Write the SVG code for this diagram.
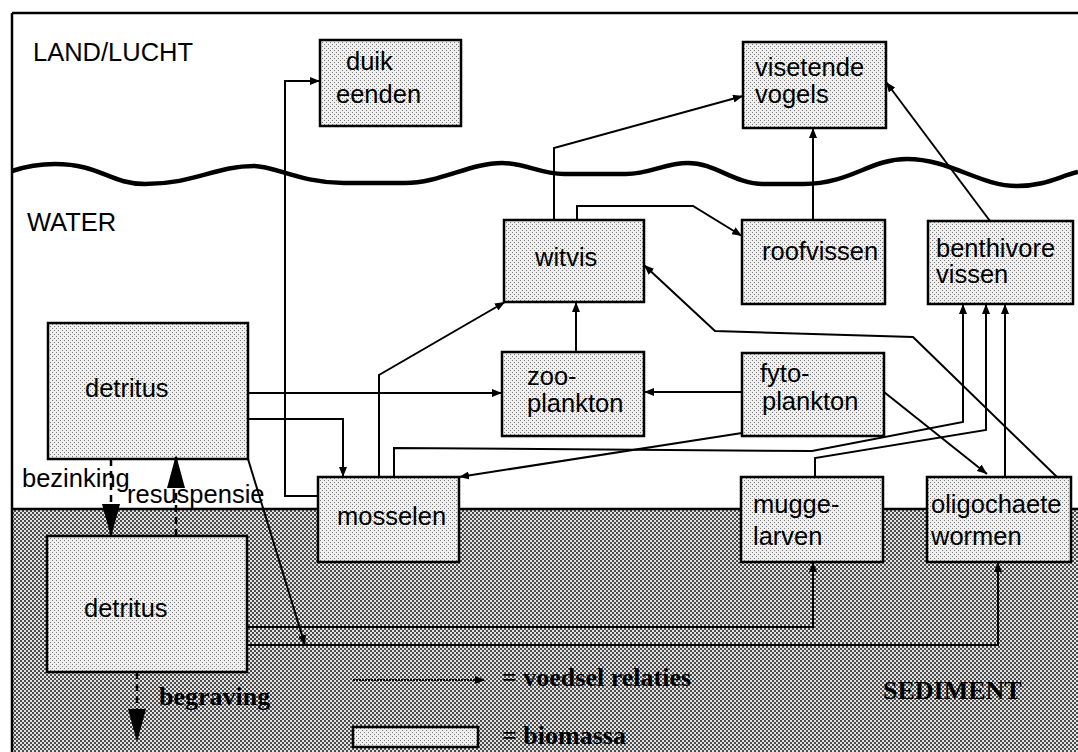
<svg xmlns="http://www.w3.org/2000/svg" width="1078" height="752" viewBox="0 0 1078 752">
<defs>
<pattern id="sed" width="4" height="4" patternUnits="userSpaceOnUse"><rect width="4" height="4" fill="#e4e4e4"/><rect width="2" height="2" fill="#4a4a4a"/><rect x="2" y="2" width="2" height="2" fill="#4a4a4a"/></pattern>
<pattern id="dots" width="4" height="4" patternUnits="userSpaceOnUse"><rect width="4" height="4" fill="#efefef"/><rect width="1" height="1" fill="#7a7a7a"/><rect x="2" y="2" width="1" height="1" fill="#7a7a7a"/></pattern>
<marker id="arr" viewBox="0 0 10 8" markerWidth="10" markerHeight="8" refX="10" refY="4" orient="auto" markerUnits="userSpaceOnUse"><path d="M0,0 L10,4 L0,8 z" fill="#000"/></marker>
<marker id="big" viewBox="0 0 33 18" markerWidth="33" markerHeight="18" refX="33" refY="9" orient="auto" markerUnits="userSpaceOnUse"><path d="M0,0 L33,9 L0,18 z" fill="#000"/></marker>
</defs>
<style>
.box{fill:url(#dots);stroke:#000;stroke-width:2.5}
.lbl{font-family:"Liberation Sans",Arial,sans-serif;font-size:25.5px;fill:#000}
.ser{font-family:"Liberation Serif","Times New Roman",serif;font-weight:bold;font-size:26px;fill:#000}
.c{fill:none;stroke:#000;stroke-width:2;marker-end:url(#arr)}
.d{fill:none;stroke:#000;stroke-width:2.5;stroke-dasharray:7 5;marker-end:url(#big)}
.frame{fill:none;stroke:#000;stroke-width:2.5}
</style>
<rect width="1078" height="752" fill="#fff"/>
<g id="sediment">
<rect x="12" y="509" width="1066" height="243" fill="url(#sed)"/>
<path class="frame" d="M12,509 H1078"/>
</g>
<g id="frame">
<path class="frame" d="M12,13 H1078 M12,13 V752"/>
<path d="M12,171 C30,165 45,164 55,164 C100,164 110,184 145,184 C195,184 215,166 254,166 C275,166 300,183 344,183 L405,183 C440,183 470,163 502,163 C525,163 540,174 564,174 L626,174 C650,174 665,163 688,163 C715,163 735,184 763,184 L804,184 C850,184 870,159 907,159 C950,159 980,186 1017,186 C1045,186 1060,176 1078,172" fill="none" stroke="#000" stroke-width="4.5"/>
<text class="lbl" x="33" y="61">LAND/LUCHT</text>
<text class="lbl" x="27" y="231">WATER</text>
<text class="ser" x="883" y="699">SEDIMENT</text>
</g>
<g id="n-duik"><rect class="box" x="320" y="40" width="141" height="86"/><text class="lbl" x="346" y="70">duik</text><text class="lbl" x="336" y="103">eenden</text></g>
<g id="n-visetende"><rect class="box" x="743" y="42" width="143" height="86"/><text class="lbl" x="755" y="76">visetende</text><text class="lbl" x="755" y="103">vogels</text></g>
<g id="n-witvis"><rect class="box" x="504" y="220" width="140" height="82"/><text class="lbl" x="535" y="266">witvis</text></g>
<g id="n-roofvissen"><rect class="box" x="742" y="220" width="143" height="84"/><text class="lbl" x="762" y="260">roofvissen</text></g>
<g id="n-benthivore"><rect class="box" x="928" y="221" width="145" height="83"/><text class="lbl" x="936" y="257">benthivore</text><text class="lbl" x="936" y="283">vissen</text></g>
<g id="n-zooplankton"><rect class="box" x="502" y="352" width="142" height="84"/><text class="lbl" x="527" y="385">zoo-</text><text class="lbl" x="527" y="412">plankton</text></g>
<g id="n-fytoplankton"><rect class="box" x="742" y="353" width="142" height="83"/><text class="lbl" x="760" y="382">fyto-</text><text class="lbl" x="762" y="410">plankton</text></g>
<g id="n-detritus-water"><rect class="box" x="48" y="323" width="200" height="136"/><text class="lbl" x="85" y="397">detritus</text></g>
<g id="n-detritus-sediment"><rect class="box" x="47" y="536" width="200" height="136"/><text class="lbl" x="84" y="617">detritus</text></g>
<g id="n-mosselen"><rect class="box" x="318" y="477" width="141" height="85"/><text class="lbl" x="337" y="525">mosselen</text></g>
<g id="n-muggelarven"><rect class="box" x="741" y="477" width="142" height="85"/><text class="lbl" x="753" y="513">mugge-</text><text class="lbl" x="753" y="545">larven</text></g>
<g id="n-oligochaete"><rect class="box" x="927" y="477" width="144" height="85"/><text class="lbl" x="931" y="513">oligochaete</text><text class="lbl" x="931" y="545">wormen</text></g>
<g id="connectors">
<path class="c" d="M318,496 H285 V81 H320"/>
<path class="c" d="M554,220 V148 L743,96"/>
<path class="c" d="M813,220 V128"/>
<path class="c" d="M577,220 V206 H693 L742,236"/>
<path class="c" d="M990,221 L886,82"/>
<path class="c" d="M576,352 V302"/>
<path class="c" d="M379,477 V375 L505,302"/>
<path class="c" d="M248,393 H502"/>
<path class="c" d="M248,419 H343 V477"/>
<path class="c" d="M742,392 H644"/>
<path class="c" d="M742,433 L459,477"/>
<path class="c" d="M394,477 V448 L812,451 L963,422 V304"/>
<path class="c" d="M815,477 V458 L986,430 V304"/>
<path class="c" d="M1005,477 V304"/>
<path class="c" d="M884,392 L987,474"/>
<path class="c" d="M1057,477 L913,337 L715,331 L644,265"/>
<path class="c" d="M247,627 H813 V562"/>
<path class="c" d="M247,645 H998 V562"/>
<path class="c" d="M248,459 L305,645"/>
<path class="d" d="M111,459 V537"/>
<path class="d" d="M176,536 V455"/>
<path class="d" d="M137,672 V742"/>
</g>
<g id="labels">
<text class="lbl" x="22" y="487">bezinking</text>
<text class="lbl" x="127" y="503">resuspensie</text>
<text class="ser" x="159" y="705">begraving</text>
</g>
<g id="legend">
<path d="M353,680 H485" fill="none" stroke="#000" stroke-width="2" stroke-dasharray="2 1" marker-end="url(#arr)"/>
<text class="ser" x="502" y="686">= voedsel relaties</text>
<rect class="box" x="353" y="727" width="125" height="20"/>
<text class="ser" x="502" y="744">= biomassa</text>
</g>
</svg>
